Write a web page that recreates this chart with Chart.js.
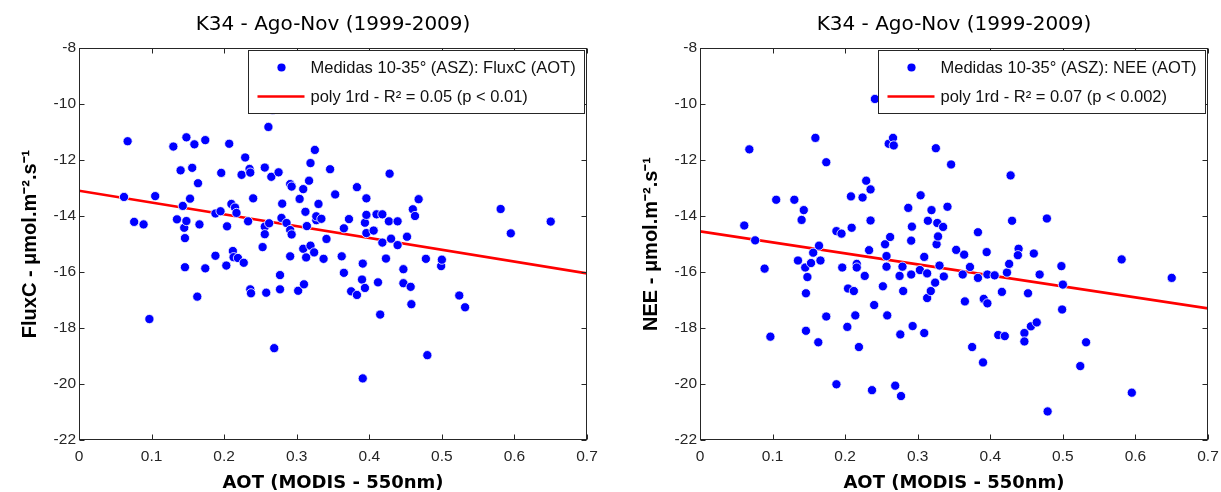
<!DOCTYPE html>
<html>
<head>
<meta charset="utf-8">
<script src="https://cdn.jsdelivr.net/npm/chart.js@4"></script>
<style>
  html, body { margin: 0; padding: 0; background: #ffffff; }
  #wrap { position: relative; width: 1221px; height: 492px; background: #ffffff; overflow: hidden; }
  canvas { position: absolute; top: 0; }
  #cLeft { left: 0px; }
  #cRight { left: 621px; }
</style>
</head>
<body>
<div id="wrap">
  <canvas id="cLeft" width="600" height="492"></canvas>
  <canvas id="cRight" width="600" height="492"></canvas>
</div>
<script>
// ---------- text ----------
const chartTitle = 'K34 - Ago-Nov (1999-2009)';
const xAxisTitle = 'AOT (MODIS - 550nm)';
const yTitleFlux = 'FluxC - \u03bcmol.m\u207b\u00b2.s\u207b\u00b9';
const yTitleNee = 'NEE - \u03bcmol.m\u207b\u00b2.s\u207b\u00b9';
const fluxLabels = ['Medidas 10-35\u00b0 (ASZ): FluxC (AOT)', 'poly 1rd - R\u00b2 = 0.05 (p < 0.01)'];
const neeLabels = ['Medidas 10-35\u00b0 (ASZ): NEE (AOT)', 'poly 1rd - R\u00b2 = 0.07 (p < 0.002)'];

// ---------- ticks ----------
const xTickLabels = ['0', '0.1', '0.2', '0.3', '0.4', '0.5', '0.6', '0.7'];
const yTickLabels = ['-22', '-20', '-18', '-16', '-14', '-12', '-10', '-8'];

// ---------- left panel: FluxC vs AOT ----------
const aotFlux = [0.062,0.067,0.076,0.089,0.097,0.105,0.130,0.135,0.140,0.143,0.145,0.146,0.146,0.148,0.148,0.153,0.156,0.159,0.163,0.164,
  0.166,0.174,0.174,0.188,0.188,0.195,0.196,0.203,0.204,0.207,0.210,0.212,0.213,0.215,0.217,0.219,0.224,0.227,0.229,0.233,
  0.235,0.236,0.236,0.237,0.240,0.253,0.256,0.256,0.256,0.258,0.261,0.262,0.265,0.267,0.269,0.275,0.277,0.277,0.279,0.280,
  0.286,0.291,0.291,0.291,0.293,0.293,0.302,0.304,0.309,0.309,0.310,0.312,0.313,0.314,0.317,0.319,0.319,0.324,0.325,0.327,
  0.327,0.330,0.334,0.337,0.341,0.346,0.353,0.362,0.365,0.365,0.372,0.375,0.383,0.383,0.390,0.391,0.391,0.394,0.394,0.396,
  0.396,0.396,0.406,0.410,0.412,0.415,0.418,0.418,0.423,0.427,0.428,0.430,0.439,0.439,0.447,0.447,0.452,0.457,0.458,0.460,
  0.463,0.468,0.478,0.480,0.499,0.500,0.524,0.532,0.581,0.595,0.650];
const fluxC = [-13.32,-11.33,-14.21,-14.30,-17.68,-13.29,-11.52,-14.12,-12.37,-13.64,-14.42,-14.79,-15.83,-14.18,-11.19,-13.38,-12.28,-11.44,-16.88,-12.83,
  -14.30,-11.29,-15.87,-15.42,-13.91,-13.83,-12.46,-15.77,-14.37,-11.42,-13.57,-15.25,-15.47,-13.70,-13.89,-15.50,-12.53,-15.67,-11.91,-14.19,
  -12.32,-12.45,-16.62,-16.76,-13.37,-15.11,-12.27,-14.38,-14.65,-16.74,-10.82,-14.26,-12.60,-10.21,-18.72,-12.44,-16.11,-16.62,-14.07,-13.56,
  -14.25,-12.86,-14.50,-15.44,-12.95,-14.66,-16.67,-13.39,-15.17,-13.04,-16.44,-13.85,-15.48,-14.36,-12.74,-12.11,-15.06,-15.30,-11.64,-14.15,
  -14.01,-13.57,-14.10,-15.53,-14.82,-12.33,-13.23,-15.44,-14.44,-16.03,-14.11,-16.69,-16.82,-12.97,-16.27,-19.80,-15.70,-14.24,-16.57,-13.37,
  -13.96,-14.61,-14.52,-13.94,-16.37,-17.52,-13.94,-14.95,-15.52,-14.19,-12.49,-14.81,-14.19,-15.04,-15.90,-16.40,-14.74,-16.53,-17.15,-13.76,
  -14.00,-13.40,-15.53,-18.97,-15.79,-15.56,-16.84,-17.26,-13.75,-14.62,-14.20];
const fitX = [0, 0.7];
const fitFlux = [-13.10, -16.05];

// ---------- right panel: NEE vs AOT ----------
const aotNee = [0.061,0.068,0.076,0.089,0.097,0.105,0.130,0.135,0.140,0.143,0.145,0.146,0.146,0.148,0.153,0.156,0.159,0.163,0.164,0.166,
  0.174,0.174,0.188,0.188,0.195,0.196,0.203,0.204,0.208,0.209,0.212,0.214,0.216,0.216,0.219,0.224,0.227,0.229,0.233,0.235,
  0.235,0.237,0.240,0.241,0.252,0.255,0.257,0.257,0.258,0.260,0.262,0.266,0.267,0.269,0.275,0.276,0.277,0.279,0.280,0.287,
  0.291,0.291,0.292,0.293,0.303,0.304,0.309,0.309,0.313,0.313,0.314,0.318,0.319,0.324,0.325,0.326,0.327,0.328,0.330,0.335,
  0.336,0.341,0.346,0.353,0.362,0.364,0.365,0.372,0.375,0.383,0.383,0.390,0.391,0.395,0.396,0.396,0.406,0.411,0.416,0.420,
  0.423,0.426,0.428,0.430,0.439,0.438,0.447,0.447,0.452,0.456,0.460,0.464,0.468,0.478,0.479,0.498,0.499,0.500,0.524,0.532,
  0.581,0.595,0.650];
const nee = [-14.34,-11.62,-14.87,-15.88,-18.31,-13.42,-13.42,-15.59,-14.14,-13.79,-15.84,-18.10,-16.76,-16.18,-15.68,-15.31,-11.21,-18.51,-15.06,-15.59,
  -12.08,-17.59,-20.01,-14.54,-14.63,-15.84,-17.96,-16.59,-13.30,-14.42,-16.68,-17.55,-15.71,-15.84,-18.68,-13.34,-16.14,-12.74,-15.22,-13.05,
  -14.16,-20.22,-17.18,-9.82,-16.51,-15.01,-15.43,-15.81,-17.55,-11.42,-14.75,-11.21,-11.48,-20.06,-16.14,-18.23,-20.43,-15.81,-16.68,-13.71,
  -14.88,-16.09,-14.38,-17.93,-15.93,-13.26,-15.46,-18.18,-16.93,-16.05,-14.17,-16.68,-13.79,-16.38,-11.58,-15.01,-14.25,-14.73,-15.77,-14.39,
  -16.16,-13.67,-12.16,-15.21,-16.09,-15.38,-17.05,-15.82,-18.68,-14.58,-16.21,-19.23,-16.96,-15.29,-16.09,-17.12,-16.12,-18.25,-16.71,-18.29,
  -16.02,-15.71,-12.55,-14.17,-15.17,-15.40,-18.18,-18.48,-16.76,-17.94,-15.34,-17.80,-16.09,-14.09,-20.98,-15.79,-17.34,-16.45,-19.36,-18.51,
  -15.55,-20.31,-16.21];
const fitNee = [-14.55, -17.30];

// ---------- plugins ----------
const frameBox = {
  id: 'frameBox',
  afterDatasetsDraw(chart, args, o) {
    const {ctx, chartArea: a} = chart;
    const xs = chart.scales.x, ys = chart.scales.y;
    const L = Math.round(a.left) + 0.5, R = Math.round(a.right) - 0.5;
    const T = Math.round(a.top) + 0.5, B = Math.round(a.bottom) - 0.5;
    ctx.save();
    ctx.strokeStyle = o.color;
    ctx.lineWidth = 1;
    ctx.beginPath();
    xs.ticks.forEach(t => {
      const p = Math.round(xs.getPixelForValue(t.value)) + 0.5;
      ctx.moveTo(p, B); ctx.lineTo(p, B - o.len);
      ctx.moveTo(p, T); ctx.lineTo(p, T + o.len);
    });
    ys.ticks.forEach(t => {
      const p = Math.round(ys.getPixelForValue(t.value)) + 0.5;
      ctx.moveTo(L, p); ctx.lineTo(L + o.len, p);
      ctx.moveTo(R, p); ctx.lineTo(R - o.len, p);
    });
    ctx.stroke();
    ctx.strokeRect(L, T, R - L, B - T);
    ctx.restore();
  }
};

const boxLegend = {
  id: 'boxLegend',
  afterDraw(chart, args, o) {
    const {ctx, chartArea: a} = chart;
    const ds = chart.data.datasets;
    ctx.save();
    ctx.font = o.font;
    const tw = Math.max(...ds.map(d => ctx.measureText(d.label).width));
    const w = Math.round(o.textX + tw + o.padRight);
    const left = Math.round(a.right - o.marginRight - w) + 0.5;
    const top = Math.round(a.top + o.marginTop) + 0.5;
    ctx.fillStyle = '#ffffff';
    ctx.fillRect(left, top, w, o.height);
    ctx.strokeStyle = o.borderColor;
    ctx.lineWidth = 1;
    ctx.strokeRect(left, top, w, o.height);
    ds.forEach((d, i) => {
      const cy = top + o.rows[i];
      if (d.type === 'line') {
        ctx.strokeStyle = d.borderColor;
        ctx.lineWidth = d.borderWidth;
        ctx.beginPath();
        ctx.moveTo(left + o.lineX0, cy);
        ctx.lineTo(left + o.lineX1, cy);
        ctx.stroke();
      } else {
        ctx.fillStyle = d.pointBackgroundColor;
        ctx.beginPath();
        ctx.arc(left + o.markerX, cy, d.pointRadius - 0.5, 0, Math.PI * 2);
        ctx.fill();
      }
      ctx.fillStyle = o.color;
      ctx.textAlign = 'left';
      ctx.textBaseline = 'middle';
      ctx.fillText(d.label, left + o.textX, cy + 1);
    });
    ctx.restore();
  }
};

function buildChart(id, xs, ys, fitY, labels, yTitle) {
  const scatterData = xs.map((x, i) => ({x: x, y: ys[i]}));
  const lineData = fitX.map((x, i) => ({x: x, y: fitY[i]}));
  const tickFont = {family: "'Liberation Sans', Arial, sans-serif", size: 15.5};
  return new Chart(document.getElementById(id), {
    type: 'scatter',
    data: {
      datasets: [
        {
          type: 'scatter',
          label: labels[0],
          data: scatterData,
          order: 0,
          pointRadius: 4.6,
          pointBackgroundColor: '#0000ff',
          pointBorderColor: '#ffffff',
          pointBorderWidth: 0.8,
          pointHoverRadius: 4.6
        },
        {
          type: 'line',
          label: labels[1],
          data: lineData,
          order: 1,
          borderColor: '#ff0000',
          borderWidth: 2.6,
          pointRadius: 0,
          tension: 0,
          fill: false
        }
      ]
    },
    options: {
      responsive: false,
      animation: false,
      devicePixelRatio: 1,
      events: [],
      layout: {padding: {left: 0, right: 13, top: 0, bottom: 0}},
      plugins: {
        legend: {display: false},
        tooltip: {enabled: false},
        title: {
          display: true,
          text: chartTitle,
          fullSize: false,
          color: '#000000',
          font: {family: "'DejaVu Sans', sans-serif", size: 20, weight: 'normal', lineHeight: 1.2},
          padding: {top: 13, bottom: 11}
        },
        frameBox: {color: '#262626', len: 5},
        boxLegend: {
          font: "16.5px 'Liberation Sans', Arial, sans-serif",
          color: '#111111',
          borderColor: '#262626',
          textX: 62, padRight: 9, height: 63,
          marginRight: 3, marginTop: 2,
          rows: [17, 46],
          markerX: 33, lineX0: 9, lineX1: 56
        }
      },
      scales: {
        x: {
          type: 'linear',
          position: 'bottom',
          min: 0, max: 0.7,
          afterFit: s => { s.height = 52; s.paddingLeft = 0; s.paddingRight = 0; },
          grid: {display: false, drawTicks: false},
          border: {display: false},
          ticks: {
            stepSize: 0.1,
            padding: 7,
            color: '#262626',
            font: tickFont,
            maxRotation: 0,
            autoSkip: false,
            callback: (v, i) => xTickLabels[i]
          },
          title: {
            display: true,
            text: xAxisTitle,
            color: '#000000',
            font: {family: "'DejaVu Sans', sans-serif", size: 18, weight: 'bold', lineHeight: 1.0},
            padding: {top: 0, bottom: 0}
          }
        },
        y: {
          type: 'linear',
          position: 'left',
          min: -22, max: -8,
          afterFit: s => { s.width = 79; s.paddingTop = 0; s.paddingBottom = 0; },
          grid: {display: false, drawTicks: false},
          border: {display: false},
          ticks: {
            stepSize: 2,
            padding: 3,
            color: '#262626',
            font: tickFont,
            autoSkip: false,
            callback: (v, i) => yTickLabels[i]
          },
          title: {
            display: true,
            text: yTitle,
            color: '#000000',
            font: {family: "'Liberation Sans', Arial, sans-serif", size: 20, weight: 'bold', lineHeight: 1.2},
            padding: {top: 18, bottom: 0}
          }
        }
      }
    },
    plugins: [frameBox, boxLegend]
  });
}

buildChart('cLeft', aotFlux, fluxC, fitFlux, fluxLabels, yTitleFlux);
buildChart('cRight', aotNee, nee, fitNee, neeLabels, yTitleNee);
</script>
</body>
</html>
